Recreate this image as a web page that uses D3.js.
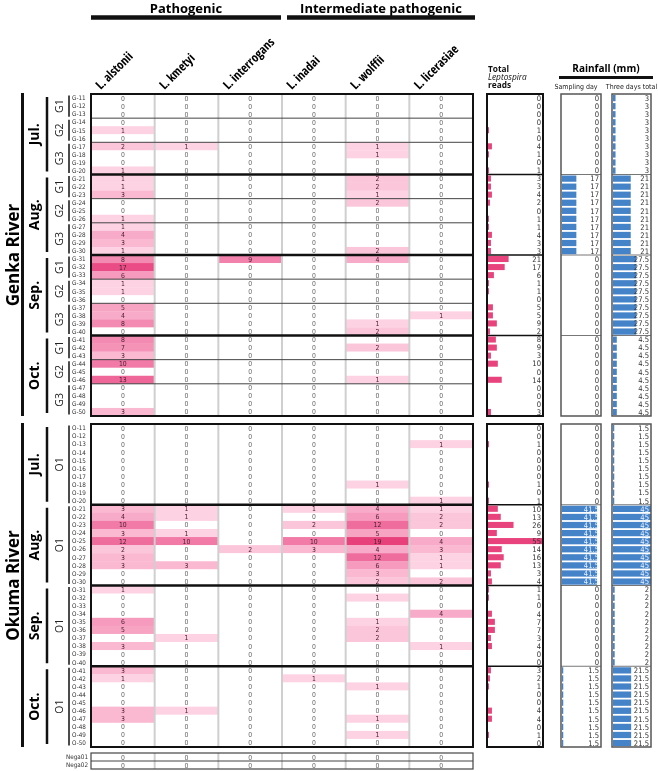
<!DOCTYPE html>
<html><head><meta charset="utf-8">
<script src="https://cdn.jsdelivr.net/npm/d3@7"></script>
<style>body{margin:0;background:#fff}svg{display:block;will-change:transform}</style>
</head><body><svg id="c" width="658" height="771"></svg>
<script>
// ---------------- DATA ----------------
const species = ["L. alstonii","L. kmetyi","L. interrogans","L. inadai","L. wolffii","L. licerasiae"];
const months = ["Jul.","Aug.","Sep.","Oct."];
const genkaGroupLabels = ["G1","G2","G3"];
const genkaGroupSizes = [3,3,4];
const okumaGroupLabels = ["O1"];
const okumaGroupSizes = [10];

const genkaIds = ["G-11","G-12","G-13","G-14","G-15","G-16","G-17","G-18","G-19","G-20",
"G-21","G-22","G-23","G-24","G-25","G-26","G-27","G-28","G-29","G-30",
"G-31","G-32","G-33","G-34","G-35","G-36","G-37","G-38","G-39","G-40",
"G-41","G-42","G-43","G-44","G-45","G-46","G-47","G-48","G-49","G-50"];
const okumaIds = ["O-11","O-12","O-13","O-14","O-15","O-16","O-17","O-18","O-19","O-20",
"O-21","O-22","O-23","O-24","O-25","O-26","O-27","O-28","O-29","O-30",
"O-31","O-32","O-33","O-34","O-35","O-36","O-37","O-38","O-39","O-40",
"O-41","O-42","O-43","O-44","O-45","O-46","O-47","O-48","O-49","O-50"];
const negaIds = ["Nega01","Nega02"];

const genkaAlstonii    = [0,0,0,0,1,0,2,0,0,1, 1,1,3,0,0,1,1,4,3,1, 8,17,6,1,1,0,5,4,8,0, 8,7,3,10,0,13,0,0,0,3];
const genkaKmetyi      = [0,0,0,0,0,0,1,0,0,0, 0,0,0,0,0,0,0,0,0,0, 0,0,0,0,0,0,0,0,0,0, 0,0,0,0,0,0,0,0,0,0];
const genkaInterrogans = [0,0,0,0,0,0,0,0,0,0, 0,0,0,0,0,0,0,0,0,0, 9,0,0,0,0,0,0,0,0,0, 0,0,0,0,0,0,0,0,0,0];
const genkaInadai      = [0,0,0,0,0,0,0,0,0,0, 0,0,0,0,0,0,0,0,0,0, 0,0,0,0,0,0,0,0,0,0, 0,0,0,0,0,0,0,0,0,0];
const genkaWolffii     = [0,0,0,0,0,0,1,1,0,0, 2,2,1,2,0,0,0,0,0,2, 4,0,0,0,0,0,0,0,1,2, 0,2,0,0,0,1,0,0,0,0];
const genkaLicerasiae  = [0,0,0,0,0,0,0,0,0,0, 0,0,0,0,0,0,0,0,0,0, 0,0,0,0,0,0,0,1,0,0, 0,0,0,0,0,0,0,0,0,0];
const genkaTotal       = [0,0,0,0,1,0,4,1,0,1, 3,3,4,2,0,1,1,4,3,3, 21,17,6,1,1,0,5,5,9,2, 8,9,3,10,0,14,0,0,0,3];

const okumaAlstonii    = [0,0,0,0,0,0,0,0,0,0, 3,4,10,3,12,2,3,3,0,0, 1,0,0,0,6,5,0,3,0,0, 3,1,0,0,0,3,3,0,0,0];
const okumaKmetyi      = [0,0,0,0,0,0,0,0,0,0, 1,1,0,1,10,0,0,3,0,0, 0,0,0,0,0,0,1,0,0,0, 0,0,0,0,0,1,0,0,0,0];
const okumaInterrogans = [0,0,0,0,0,0,0,0,0,0, 0,0,0,0,0,2,0,0,0,0, 0,0,0,0,0,0,0,0,0,0, 0,0,0,0,0,0,0,0,0,0];
const okumaInadai      = [0,0,0,0,0,0,0,0,0,0, 1,0,2,0,10,3,0,0,0,0, 0,0,0,0,0,0,0,0,0,0, 0,1,0,0,0,0,0,0,0,0];
const okumaWolffii     = [0,0,0,0,0,0,0,1,0,0, 4,6,12,5,19,4,12,6,3,2, 0,1,0,0,1,2,2,0,0,0, 0,0,1,0,0,0,1,0,1,0];
const okumaLicerasiae  = [0,0,1,0,0,0,0,0,0,1, 1,2,2,0,4,3,1,1,0,2, 0,0,0,4,0,0,0,1,0,0, 0,0,0,0,0,0,0,0,0,0];
const okumaTotal       = [0,0,1,0,0,0,0,1,0,1, 10,13,26,9,55,14,16,13,3,4, 1,1,0,4,7,7,3,4,0,0, 3,2,1,0,0,4,4,0,1,0];

const nega01 = [0,0,0,0,0,0];
const nega02 = [0,0,0,0,0,0];

const genkaSamplingDay = [0,17,0,0];
const genkaThreeDays   = [3,21,27.5,4.5];
const okumaSamplingDay = [0,41.5,0,1.5];
const okumaThreeDays   = [1.5,45,2,21.5];

// ---------------- DRAW ----------------
const svg = d3.select("#c");
const NUMF = "'DejaVu Sans Condensed','Liberation Sans Narrow','DejaVu Sans',sans-serif";
const BOLDF = "'Open Sans','DejaVu Sans',sans-serif";

const x = d3.scaleBand().domain(species).range([91,473]);
const heat = d3.scaleLinear().domain([1,4,10,19]).range(["#fdd3e3","#f8abc8","#f17aa6","#e8407b"]).clamp(true);
const totW = d3.scaleLinear().domain([0,55]).range([0,54]);
const rainW = d3.scaleLinear().domain([0,45]).range([0,38]);
const TOT = [487,543];
const RAIN1 = [561,601];
const RAIN2 = [612,651];

// headers
function groupHeader(text, x0, x1){
  svg.append("text").attr("x",(x0+x1)/2).attr("y",13).attr("text-anchor","middle")
    .attr("font-family",BOLDF).attr("font-weight","bold").attr("font-size",13).text(text);
  svg.append("line").attr("x1",x0).attr("x2",x1).attr("y1",17.5).attr("y2",17.5)
    .attr("stroke","#111").attr("stroke-width",4.5);
}
groupHeader("Pathogenic", x(species[0]), x(species[2])+x.bandwidth()-1);
groupHeader("Intermediate pathogenic", x(species[3])+5, x(species[5])+x.bandwidth()+2);

species.forEach(sp=>{
  svg.append("text").attr("transform",`translate(${x(sp)+x.bandwidth()/2-22},90) rotate(-45)`)
    .attr("font-family",BOLDF).attr("font-weight","bold").attr("font-size",12.5)
    .attr("font-stretch","87.5%").text(sp);
});

const hdr = svg.append("text").attr("font-family",BOLDF).attr("font-size",8.3).attr("fill","#111");
hdr.append("tspan").attr("x",488).attr("y",72).attr("font-weight","bold").text("Total");
hdr.append("tspan").attr("x",488).attr("y",80).attr("font-style","italic").text("Leptospira");
hdr.append("tspan").attr("x",488).attr("y",88).attr("font-weight","bold").text("reads");

svg.append("text").attr("x",606).attr("y",72).attr("text-anchor","middle").attr("font-family",BOLDF).attr("font-weight","bold").attr("font-size",10).text("Rainfall (mm)");
svg.append("line").attr("x1",559).attr("x2",653).attr("y1",77.5).attr("y2",77.5).attr("stroke","#111").attr("stroke-width",3);
svg.append("text").attr("x",(RAIN1[0]+RAIN1[1])/2-5).attr("y",89).attr("text-anchor","middle").attr("font-family",NUMF).attr("font-size",7).attr("fill","#222").text("Sampling day");
svg.append("text").attr("x",(RAIN2[0]+RAIN2[1])/2).attr("y",89).attr("text-anchor","middle").attr("font-family",NUMF).attr("font-size",7).attr("fill","#222").text("Three days total");

function block(b){
  const y = d3.scaleBand().domain(b.ids).range([b.top,b.bottom]);
  const h = y.bandwidth();
  const g = svg.append("g");
  // heat cells
  species.forEach((sp,j)=>{
    g.selectAll(null).data(b.values[j]).join("rect")
      .attr("x",x(sp)).attr("y",(d,i)=>y(b.ids[i])).attr("width",x.bandwidth()).attr("height",h+0.3)
      .attr("fill",d=>d>0?heat(d):"#fff");
  });
  // gray column separators
  species.slice(1).forEach(sp=>{
    g.append("line").attr("x1",x(sp)).attr("x2",x(sp)).attr("y1",b.top).attr("y2",b.bottom)
      .attr("stroke","#cfcfcf").attr("stroke-width",2);
  });
  // cell numbers
  species.forEach((sp,j)=>{
    g.selectAll(null).data(b.values[j]).join("text")
      .attr("x",x(sp)+x.bandwidth()/2).attr("y",(d,i)=>y(b.ids[i])+h/2+2.5)
      .attr("text-anchor","middle").attr("font-family",NUMF).attr("font-size",6.8)
      .attr("fill",d=>d>0?"#4a2030":"#666").text(d=>d);
  });
  // group separators
  months.forEach((m,mi)=>{
    let s=mi*10;
    b.groupSizes.forEach((n,gi)=>{
      if(gi>0){
        g.append("line").attr("x1",91).attr("x2",473).attr("y1",y(b.ids[s])).attr("y2",y(b.ids[s]))
          .attr("stroke","#444").attr("stroke-width",1);
      }
      s+=n;
    });
  });
  // month separators
  [10,20,30].forEach(k=>{
    const yy = y(b.ids[k]);
    g.append("line").attr("x1",91).attr("x2",473).attr("y1",yy).attr("y2",yy).attr("stroke","#111").attr("stroke-width",2.5);
    g.append("line").attr("x1",TOT[0]).attr("x2",TOT[1]).attr("y1",yy).attr("y2",yy).attr("stroke","#111").attr("stroke-width",1.5);
    [RAIN1,RAIN2].forEach(r=>g.append("line").attr("x1",r[0]).attr("x2",r[1]).attr("y1",yy).attr("y2",yy).attr("stroke","#777").attr("stroke-width",1));
  });
  g.append("rect").attr("x",91).attr("y",b.top).attr("width",382).attr("height",b.bottom-b.top)
    .attr("fill","none").attr("stroke","#111").attr("stroke-width",2);

  // left labels
  svg.append("text").attr("transform",`translate(19,${(b.top+b.bottom)/2}) rotate(-90)`)
    .attr("text-anchor","middle").attr("font-family",BOLDF).attr("font-weight","bold").attr("font-size",17).text(b.river);
  svg.append("line").attr("x1",22.5).attr("x2",22.5).attr("y1",b.top-1).attr("y2",b.bottom).attr("stroke","#111").attr("stroke-width",3);
  months.forEach((m,mi)=>{
    const y0 = y(b.ids[mi*10]), y1 = y(b.ids[mi*10+9])+h;
    svg.append("text").attr("transform",`translate(39,${(y0+y1)/2}) rotate(-90)`)
      .attr("text-anchor","middle").attr("font-family",BOLDF).attr("font-weight","bold").attr("font-size",14).text(m);
    svg.append("line").attr("x1",47).attr("x2",47).attr("y1",y0+3).attr("y2",y1-3).attr("stroke","#111").attr("stroke-width",2.5);
    let s=mi*10;
    b.groupSizes.forEach((n,gi)=>{
      const g0=y(b.ids[s]), g1=y(b.ids[s+n-1])+h;
      svg.append("text").attr("transform",`translate(63,${(g0+g1)/2}) rotate(-90)`)
        .attr("text-anchor","middle").attr("font-family",BOLDF).attr("font-size",10.5).attr("fill","#222").text(b.groupLabels[gi]);
      svg.append("line").attr("x1",69).attr("x2",69).attr("y1",g0+1.5).attr("y2",g1-1.5).attr("stroke","#111").attr("stroke-width",1.5);
      s+=n;
    });
  });
  svg.selectAll(null).data(b.ids).join("text")
    .attr("x",72).attr("y",d=>y(d)+h/2+2.3).attr("font-family",NUMF).attr("font-size",6.3).attr("fill","#333").text(d=>d);

  // totals
  g.selectAll(null).data(b.total).join("rect")
    .attr("x",TOT[0]+1).attr("y",(d,i)=>y(b.ids[i])+1).attr("height",h-2).attr("width",d=>totW(d))
    .attr("fill","#e8437c");
  g.selectAll(null).data(b.total).join("text")
    .attr("x",TOT[1]-2).attr("y",(d,i)=>y(b.ids[i])+h/2+2.8).attr("text-anchor","end")
    .attr("font-family",NUMF).attr("font-size",7.6).attr("fill","#333").text(d=>d);
  g.append("rect").attr("x",TOT[0]).attr("y",b.top).attr("width",TOT[1]-TOT[0]).attr("height",b.bottom-b.top)
    .attr("fill","none").attr("stroke","#111").attr("stroke-width",2);

  // rainfall
  [[RAIN1,b.samp],[RAIN2,b.three]].forEach(([r,vals])=>{
    const rows = b.ids.map((id,i)=>({id, v: vals[Math.floor(i/10)]}));
    g.selectAll(null).data(rows).join("rect")
      .attr("x",r[0]+1).attr("y",d=>y(d.id)+1).attr("height",h-1.8).attr("width",d=>rainW(d.v))
      .attr("fill","#4583c9");
    g.selectAll(null).data(rows).join("text")
      .attr("x",r[1]-2).attr("y",d=>y(d.id)+h/2+2.8).attr("text-anchor","end")
      .attr("font-family",NUMF).attr("font-size",7.6)
      .attr("fill",d=>rainW(d.v) > (r[1]-r[0]-14) ? "#e8f0fa" : "#333").text(d=>d.v);
    g.append("rect").attr("x",r[0]).attr("y",b.top).attr("width",r[1]-r[0]).attr("height",b.bottom-b.top)
      .attr("fill","none").attr("stroke","#555").attr("stroke-width",1.5);
  });
}

block({river:"Genka River", ids:genkaIds, top:94, bottom:416,
  values:[genkaAlstonii,genkaKmetyi,genkaInterrogans,genkaInadai,genkaWolffii,genkaLicerasiae],
  total:genkaTotal, samp:genkaSamplingDay, three:genkaThreeDays,
  groupLabels:genkaGroupLabels, groupSizes:genkaGroupSizes});
block({river:"Okuma River", ids:okumaIds, top:424, bottom:747,
  values:[okumaAlstonii,okumaKmetyi,okumaInterrogans,okumaInadai,okumaWolffii,okumaLicerasiae],
  total:okumaTotal, samp:okumaSamplingDay, three:okumaThreeDays,
  groupLabels:okumaGroupLabels, groupSizes:okumaGroupSizes});

// negative controls
(function(){
  const y = d3.scaleBand().domain(negaIds).range([753,769]);
  const h = y.bandwidth();
  const rows = [nega01, nega02];
  const g = svg.append("g");
  species.slice(1).forEach(sp=>{
    g.append("line").attr("x1",x(sp)).attr("x2",x(sp)).attr("y1",753).attr("y2",769).attr("stroke","#cfcfcf").attr("stroke-width",2);
  });
  rows.forEach((vals,ri)=>{
    g.selectAll(null).data(vals).join("text")
      .attr("x",(d,j)=>x(species[j])+x.bandwidth()/2).attr("y",y(negaIds[ri])+h/2+2.5)
      .attr("text-anchor","middle").attr("font-family",NUMF).attr("font-size",6.8).attr("fill","#666").text(d=>d);
  });
  g.append("line").attr("x1",91).attr("x2",473).attr("y1",y(negaIds[1])).attr("y2",y(negaIds[1])).attr("stroke","#444").attr("stroke-width",1);
  g.append("rect").attr("x",91).attr("y",753).attr("width",382).attr("height",16).attr("fill","none").attr("stroke","#444").attr("stroke-width",1.2);
  g.selectAll(null).data(negaIds).join("text")
    .attr("x",88).attr("y",d=>y(d)+h/2+2.3).attr("text-anchor","end").attr("font-family",NUMF).attr("font-size",6.3).attr("fill","#333").text(d=>d);
})();
</script></body></html>
